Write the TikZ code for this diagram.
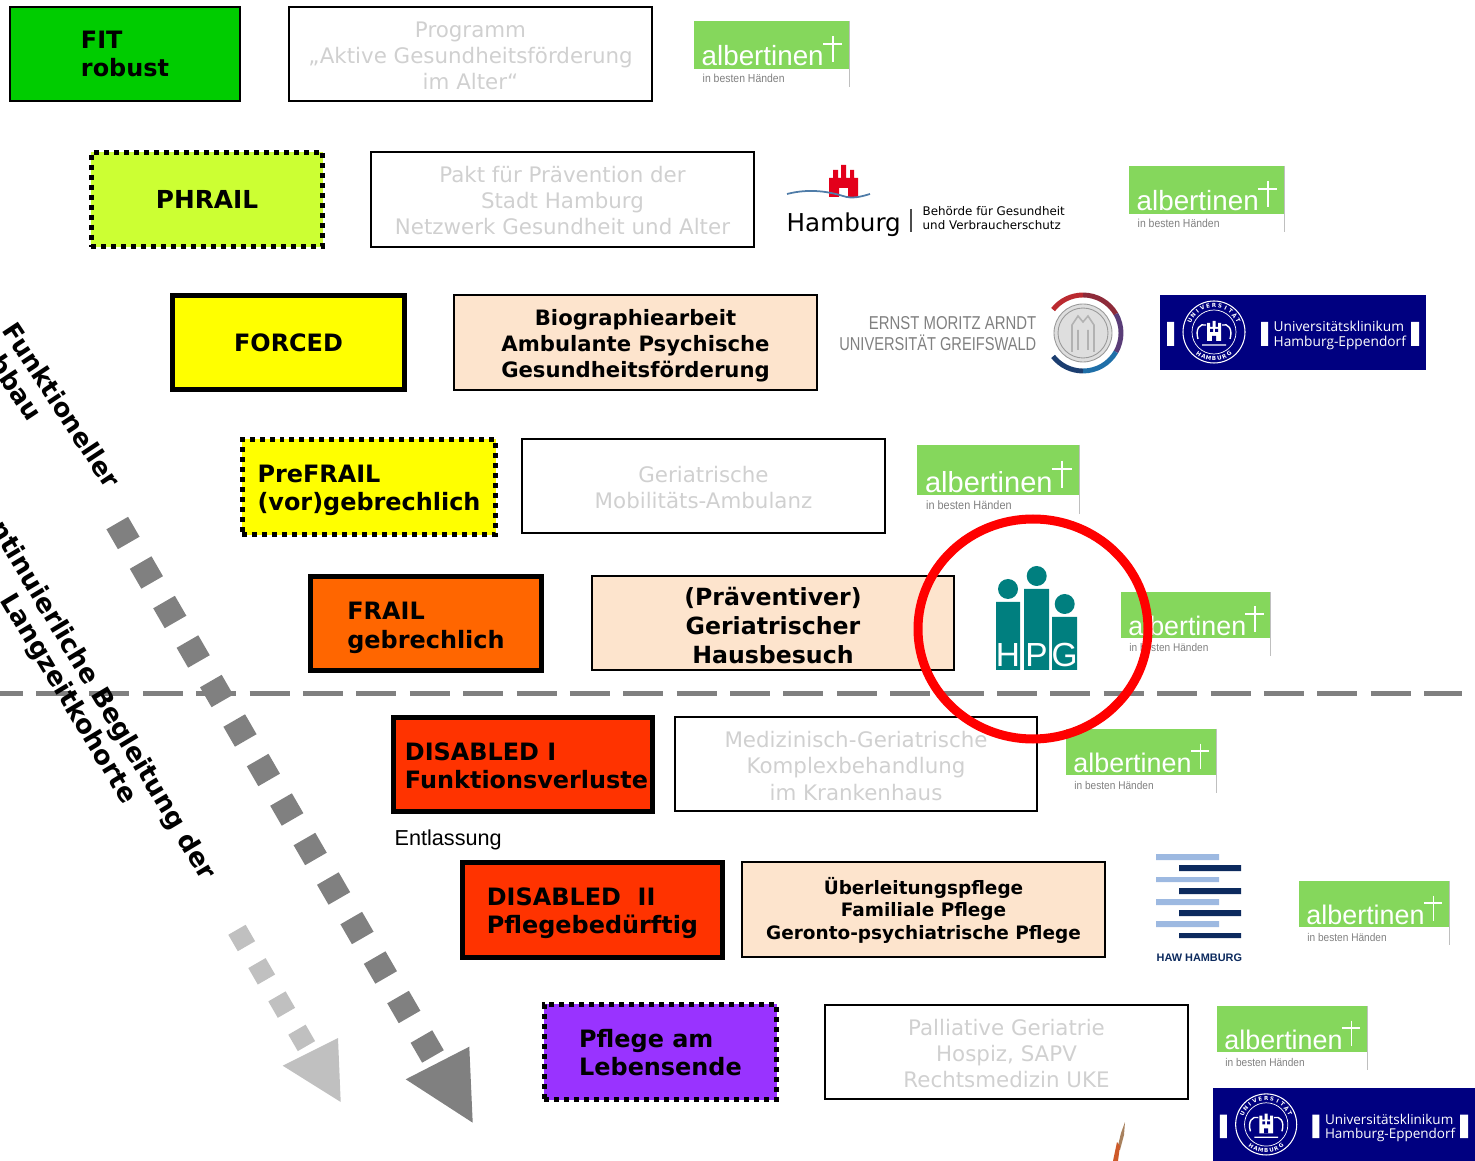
\documentclass[tikz,border=0pt]{standalone}
\usepackage{fontspec}
\setmainfont{DejaVu Sans}
\newfontfamily\liberation{Liberation Sans}
\newfontfamily\opensans{Open Sans}
\usetikzlibrary{calc}
\definecolor{fitgreen}{HTML}{00CC00}
\definecolor{phrailgreen}{HTML}{CCFF33}
\definecolor{stageyellow}{HTML}{FFFF00}
\definecolor{frailorange}{HTML}{FF6600}
\definecolor{disabledred}{HTML}{FF3300}
\definecolor{careviolet}{HTML}{9933FF}
\definecolor{peach}{HTML}{FDE4CD}
\definecolor{paletext}{HTML}{D0D0D0}
\definecolor{albgreen}{HTML}{85D75C}
\definecolor{ukeblue}{HTML}{000080}
\definecolor{hpgteal}{HTML}{007F7F}
\definecolor{hawlight}{HTML}{9DB9E1}
\definecolor{hawdark}{HTML}{0C2A5E}
\definecolor{arrowdark}{HTML}{808080}
\definecolor{arrowlight}{HTML}{C0C0C0}
\definecolor{pureRed}{HTML}{FF0000}
\definecolor{hhred}{HTML}{E3001B}
\definecolor{hhwave}{HTML}{4F7CA8}
\definecolor{twigbrown}{HTML}{A8815E}
\definecolor{twigred}{HTML}{CE5A2A}
\newcommand{\fsz}[2]{\fontsize{#1}{#2}\selectfont}
\newcommand{\topgap}[1]{\rule{0pt}{\dimexpr.76em+#1\relax}}
\tikzset{
  stage/.style={draw=black, line width=1.42pt, minimum width=2.31cm, minimum height=.945cm, inner sep=0pt, align=left, font=\fsz{6.8}{8}\bfseries},
  thinstage/.style={stage, line width=.57pt, minimum width=2.29cm, minimum height=.93cm},
  dotstage/.style={stage, dash pattern=on 1.42pt off 1.42pt},
  offer/.style={draw=black, line width=.57pt, minimum width=3.62cm, minimum height=.94cm, inner sep=0pt, align=center},
  paleoffer/.style={offer, text=paletext, font=\fsz{6.08}{7.4}},
  fulloffer/.style={offer, fill=peach, font=\fsz{6.02}{7.4}\bfseries},
  sealglyph/.style={white, inner sep=0pt, transform shape, font=\fsz{1.6}{2}\bfseries},
  pics/albertinen/.style={code={
    \fill[albgreen] (0,0) rectangle (155,-48);
    \draw[black!25, line width=.2pt] (155,0) -- (155,-66);
    \node[white, anchor=base west, inner sep=0pt, transform shape, font=\liberation\fsz{7.9}{8}] (-name) at (7,-45) {albertinen};
    \draw[white, line width=.45pt] (139,-15) -- (139,-41) (129,-23) -- (148,-23);
    \node[black!50, anchor=base west, inner sep=0pt, transform shape, font=\liberation\fsz{3.3}{4}] (-claim) at (8,-62) {\scalebox{.9}[1]{in besten Händen}};
  }},
  pics/uke/.style={code={
    \fill[ukeblue] (0,0) rectangle (266,-75);
    \fill[white] (7,-27) rectangle (14,-51) (101,-27) rectangle (108,-51) (251,-27) rectangle (259,-51);
    \draw[white, line width=.3pt] (54,-37) circle (31);
    \draw[white, line width=.2pt] (54,-37) circle (22);
    \foreach \ang/\glyph in {155/U,142/N,129/I,116/V,103/E,90/R,77/S,64/I,51/T,38/Ä,25/T}{
      \node[sealglyph, rotate=\ang-90] (-top\ang) at ($(54,-37)+(\ang:26.5)$) {\glyph};
    }
    \foreach \ang/\glyph in {235/H,247/A,258/M,270/B,282/U,293/R,305/G}{
      \node[sealglyph, rotate=\ang+90] (-low\ang) at ($(54,-37)+(\ang:26.5)$) {\glyph};
    }
    \fill[white] (47,-46) rectangle (61,-32) (47,-32) rectangle (50,-28) (52.5,-32) rectangle (55.5,-26) (58,-32) rectangle (61,-28);
    \fill[ukeblue] (50,-37) rectangle (53,-34) (55,-37) rectangle (58,-34) (52,-46) rectangle (56,-41);
    \draw[white, line width=.4pt] (38,-44) .. controls (35,-34) and (40,-28) .. (46,-30) (70,-44) .. controls (73,-34) and (68,-28) .. (62,-30) (42,-50) -- (66,-50);
    \node[white, anchor=west, align=left, inner sep=0pt, transform shape, font=\opensans\fsz{3.9}{4.2}] (-name) at (113,-40.5) {Universitätsklinikum\\Hamburg-Eppendorf};
  }}
}
\begin{document}
\begin{tikzpicture}[x=0.01cm,y=0.01cm]
\useasboundingbox (0,0) rectangle (1475,-1161);
\clip (0,0) rectangle (1475,-1161);
\draw[arrowdark, line width=1.42pt, dash pattern=on 11.38pt off 3.8pt, dash phase=4.92pt] (0,-693.5) -- (1462,-693.5);
\node[thinstage, fill=fitgreen] (fit) at (125,-54) {FIT\\robust};
\node[paleoffer] (programm) at (470.5,-54) {\topgap{1.14pt}Programm\\„Aktive Gesundheitsförderung\\im Alter“};
\pic at (694,-21) {albertinen};
\node[dotstage, fill=phrailgreen, font=\fsz{7.05}{8}\bfseries] (phrail) at (207,-199.5) {PHRAIL};
\node[paleoffer, minimum width=3.82cm] (pakt) at (562.5,-199.5) {\topgap{.85pt}Pakt für Prävention der\\Stadt Hamburg\\Netzwerk Gesundheit und Alter};
\fill[hhred] (829,-197) -- (829,-178) -- (833,-178) -- (833,-170) -- (838,-170) -- (838,-178) -- (841,-178) -- (841,-165) -- (846,-165) -- (846,-178) -- (850,-178) -- (850,-170) -- (854,-170) -- (854,-178) -- (858,-178) -- (858,-197) -- (848,-197) -- (848,-188) -- (839,-188) -- (839,-197) -- cycle;
\draw[hhwave, line width=.5pt] (787,-194) .. controls (810,-188) and (830,-192) .. (843,-196) .. controls (852,-199) and (860,-197) .. (870,-194);
\node[anchor=base west, inner sep=0pt, font=\fsz{7}{8}] (hamburg) at (786,-231.5) {Hamburg};
\draw[black!70, line width=.3pt] (911,-209) -- (911,-232);
\node[anchor=west, align=left, inner sep=0pt, font=\fsz{3.38}{4}] (behoerde) at (922,-218) {Behörde für Gesundheit\\und Verbraucherschutz};
\pic at (1129,-166) {albertinen};
\node[stage, fill=stageyellow] (forced) at (288.5,-342.5) {FORCED};
\node[fulloffer] (bio) at (635.5,-342.5) {\topgap{1.7pt}Biographiearbeit\\Ambulante Psychische\\Gesundheitsförderung};
\node[anchor=east, align=right, inner sep=0pt, text=black!50, font=\liberation\fsz{5.3}{6}] (greifswald) at (1037,-334) {\scalebox{.8}[1]{ERNST MORITZ ARNDT}\\\scalebox{.785}[1]{UNIVERSITÄT GREIFSWALD}};
\fill[black!13] (1083,-333) circle (29);
\draw[black!40, line width=.25pt] (1083,-333) circle (29) (1083,-333) circle (25);
\draw[black!30, line width=.45pt] (1072,-352) -- (1072,-325) -- (1078,-316) -- (1083,-322) -- (1088,-316) -- (1094,-325) -- (1094,-352) (1078,-350) -- (1078,-330) (1088,-350) -- (1088,-330);
\foreach \startang/\endang/\ringcol in {142/90/BB2A30, 90/30/8E2B3A, 30/-30/5A3D78, -30/-90/1F6FA8, -90/-142/1C3E70}{
  \definecolor{ringtmp}{HTML}{\ringcol}
  \draw[ringtmp, line width=1.4pt] (1083,-333) ++(\startang:38) arc (\startang:\endang:38);
}
\pic (ukeone) at (1160,-295) {uke};
\node[dotstage, fill=stageyellow, minimum width=2.53cm, minimum height=.95cm] (prefrail) at (369,-487) {\topgap{1.7pt}PreFRAIL\\(vor)gebrechlich};
\node[paleoffer] (mobil) at (703.5,-486) {\topgap{1.14pt}Geriatrische\\Mobilitäts-Ambulanz};
\pic[scale=1.045, transform shape] at (917,-445) {albertinen};
\node[stage, fill=frailorange] (frail) at (426,-623.5) {\topgap{2.28pt}FRAIL\\gebrechlich};
\node[offer, fill=peach, font=\fsz{6.72}{8.25}\bfseries] (haus) at (773,-623) {\topgap{1.7pt}(Präventiver)\\Geriatrischer\\Hausbesuch};
\fill[hpgteal] (996,-602) rectangle (1020,-670) (1024,-589) rectangle (1049,-670) (1052,-617) rectangle (1077,-670);
\fill[hpgteal] (1008,-589) circle (10) (1036.7,-576) circle (10) (1064.7,-604) circle (10);
\node[white, anchor=base, inner sep=0pt, font=\liberation\fsz{9.5}{10}] (hpgh) at (1008,-667) {H};
\node[white, anchor=base, inner sep=0pt, font=\liberation\fsz{9.5}{10}] (hpgp) at (1036.5,-667) {P};
\node[white, anchor=base, inner sep=0pt, font=\liberation\fsz{9.5}{10}] (hpgg) at (1064.7,-667) {G};
\pic[scale=.965, transform shape] at (1121,-592) {albertinen};
\node[stage, fill=disabledred, minimum width=2.59cm] (disone) at (523,-764.5) {\topgap{.57pt}\hspace*{2pt}DISABLED I\\\hspace*{2pt}Funktionsverluste};
\node[paleoffer] (kompl) at (856,-764) {\topgap{1.14pt}Medizinisch-Geriatrische\\Komplexbehandlung\\im Krankenhaus};
\pic[scale=.968, transform shape] at (1066,-729) {albertinen};
\node[anchor=base west, inner sep=0pt, font=\liberation\fsz{6.15}{7}] (entlassung) at (394,-845) {Entlassung};
\node[stage, fill=disabledred, minimum width=2.6cm, minimum height=.95cm] (distwo) at (592.5,-910) {\topgap{1.7pt}DISABLED\ \ II\\Pflegebedürftig};
\node[offer, fill=peach, font=\fsz{5.25}{6.4}\bfseries] (ueber) at (923.5,-909.5) {\topgap{1.14pt}Überleitungspflege\\Familiale Pflege\\Geronto-psychiatrische Pflege};
\fill[hawlight] (1156,-854) rectangle (1219,-860) (1156,-877) rectangle (1219,-882) (1156,-899) rectangle (1219,-905) (1156,-921) rectangle (1219,-927);
\fill[hawdark] (1179,-865) rectangle (1241,-871) (1179,-888) rectangle (1241,-894) (1179,-910) rectangle (1241,-916) (1179,-933) rectangle (1241,-938);
\node[text=hawdark, anchor=base west, inner sep=0pt, font=\liberation\fsz{3.1}{3}\bfseries] (haw) at (1156,-961) {HAW HAMBURG};
\pic[scale=.968, transform shape] at (1299,-881) {albertinen};
\node[dotstage, fill=careviolet, minimum width=2.32cm, minimum height=.95cm] (pflege) at (660.5,-1052) {\topgap{.57pt}Pflege am\\Lebensende};
\node[paleoffer] (palliativ) at (1006.5,-1052) {\topgap{.85pt}Palliative Geriatrie\\Hospiz, SAPV\\Rechtsmedizin UKE};
\pic[scale=.968, transform shape] at (1217,-1006) {albertinen};
\pic[scale=.985, transform shape] (uketwo) at (1213,-1088) {uke};
\fill[twigbrown] (1125,-1122) -- (1124,-1135) -- (1120,-1150) -- (1117,-1150) -- (1121,-1133) -- cycle;
\fill[twigred] (1117,-1142) -- (1120,-1146) -- (1118,-1161) -- (1113,-1161) -- cycle;
\foreach \i in {0,...,13}{
  \fill[arrowdark, shift={(123+\i*23.4,-533-\i*39.5)}, rotate=30] (-12.5,-11.5) rectangle (12.5,11.5);
}
\fill[arrowdark] (405.7,-1079.3) -- (469.3,-1046.7) -- (472.7,-1122.7) -- cycle;
\foreach \i in {0,...,3}{
  \fill[arrowlight, shift={(241.7+\i*20,-938-\i*33.3)}, rotate=30] (-10,-9.5) rectangle (10,9.5);
}
\fill[arrowlight] (282.7,-1065.7) -- (338,-1038) -- (340.7,-1102) -- cycle;
\draw[pureRed, line width=2.56pt] (1033,-629) ellipse (115 and 110);
\node[rotate=-56.5, align=left, inner sep=0pt, font=\fsz{7.25}{8}\bfseries] (abbau) at (50,-413) {Funktioneller\\Abbau};
\node[rotate=-59, align=center, inner sep=0pt, font=\fsz{7.4}{8.2}\bfseries] (begleitung) at (80,-692) {Kontinuierliche Begleitung der\\Langzeitkohorte};
\end{tikzpicture}
\end{document}
